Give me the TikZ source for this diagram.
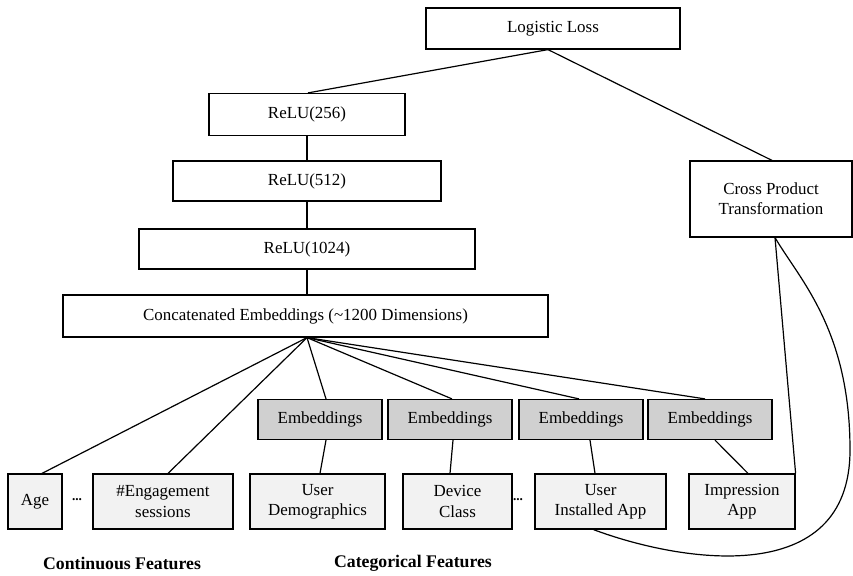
\documentclass[tikz,border=0pt]{standalone}
\usepackage{fontspec}
\setmainfont{Liberation Serif}
\usetikzlibrary{calc}
\definecolor{embgray}{RGB}{208,208,208}
\definecolor{featgray}{RGB}{242,242,242}
\begin{document}
\begin{tikzpicture}[x=0.75pt,y=-0.75pt,
  box/.style={draw=black,line width=0.9pt,rectangle,inner sep=0pt,align=center,font=\fontsize{12.7}{15.2}\selectfont,fill=white},
  embbox/.style={box,fill=embgray,minimum width=93pt,minimum height=30pt},
  featbox/.style={box,fill=featgray,minimum height=41.25pt},
  conn/.style={line width=0.9pt,black},
  grouplabel/.style={font=\fontsize{13.3}{15}\selectfont\bfseries}]
\useasboundingbox (0,0) rectangle (853,575);
% top part
\node[box,minimum width=190.5pt,minimum height=30.75pt] (loss) at (553,28.5) {Logistic Loss};
\node[box,minimum width=147pt,minimum height=31.5pt] (r256) at (307,114.5) {ReLU(256)};
\node[box,minimum width=201pt,minimum height=30pt] (r512) at (307,181) {ReLU(512)};
\node[box,minimum width=252pt,minimum height=30pt] (r1024) at (307,249) {ReLU(1024)};
\node[box,minimum width=363.75pt,minimum height=31.5pt] (concat) at (305.5,316) {Concatenated Embeddings (\textasciitilde1200 Dimensions)};
\node[box,minimum width=121.5pt,minimum height=57pt] (cross) at (771,199) {Cross Product\\Transformation};
% embeddings
\node[embbox] (emb1) at (320,419.5) {Embeddings};
\node[embbox] (emb2) at (450,419.5) {Embeddings};
\node[embbox] (emb3) at (581,419.5) {Embeddings};
\node[embbox] (emb4) at (710,419.5) {Embeddings};
% features
\node[featbox,minimum width=40.5pt] (age) at (35,501.5) {Age};
\node[featbox,minimum width=105pt] (eng) at (163,501.5) {\#Engagement\\sessions};
\node[featbox,minimum width=101.25pt] (ud) at (317.5,501.5) {User\\Demographics};
\node[featbox,minimum width=81.75pt] (dc) at (457.5,501.5) {Device\\Class};
\node[featbox,minimum width=98.25pt] (uia) at (600.5,501.5) {User\\Installed App};
\node[featbox,minimum width=79.5pt] (imp) at (742,501.5) {Impression\\App};
\node[font=\bfseries] (dots1) at (77,500) {...};
\node[font=\bfseries] (dots2) at (518,500) {...};
% group labels
\node[grouplabel] (contlab) at (122,563) {Continuous Features};
\node[grouplabel] (catlab) at (413,563) {Categorical Features};
% hub coordinates
\coordinate (lossb) at ($(loss.south)+(-5,0)$);
\coordinate (hub) at ($(concat.south)+(1.5,0)$);
% connectors
\draw[conn] (lossb) -- ($(r256.north)+(1,0)$);
\draw[conn] (lossb) -- ($(cross.north)+(1,0)$);
\draw[conn] (r256) -- (r512);
\draw[conn] (r512) -- (r1024);
\draw[conn] (r1024.south) -- ($(concat.north)+(1.5,0)$);
\draw[conn] (hub) -- ($(age.north)+(7,0)$);
\draw[conn] (hub) -- ($(eng.north)+(5,0)$);
\draw[conn] (hub) -- ($(emb1.north)+(6,0)$);
\draw[conn] (hub) -- ($(emb2.north)+(2,0)$);
\draw[conn] (hub) -- ($(emb3.north)+(-2,0)$);
\draw[conn] (hub) -- ($(emb4.north)+(-5,0)$);
\draw[conn] ($(emb1.south)+(6,0)$) -- ($(ud.north)+(2.5,0)$);
\draw[conn] ($(emb2.south)+(3,0)$) -- ($(dc.north)+(-7.5,0)$);
\draw[conn] ($(emb3.south)+(9,0)$) -- ($(uia.north)+(-5.5,0)$);
\draw[conn] ($(emb4.south)+(5,0)$) -- ($(imp.north)+(6,0)$);
\draw[conn] ($(cross.south)+(4,0)$) -- (imp.north east);
\coordinate (crossb) at ($(cross.south)+(4,0)$);
\coordinate (uiab) at ($(uia.south)+(-7,0)$);
\coordinate (rightmost) at (850,450);
\draw[conn] (uiab) .. controls (680,562) and (850,590) .. (rightmost)
  .. controls (850,330) and (800,280) .. (crossb);
\end{tikzpicture}
\end{document}
